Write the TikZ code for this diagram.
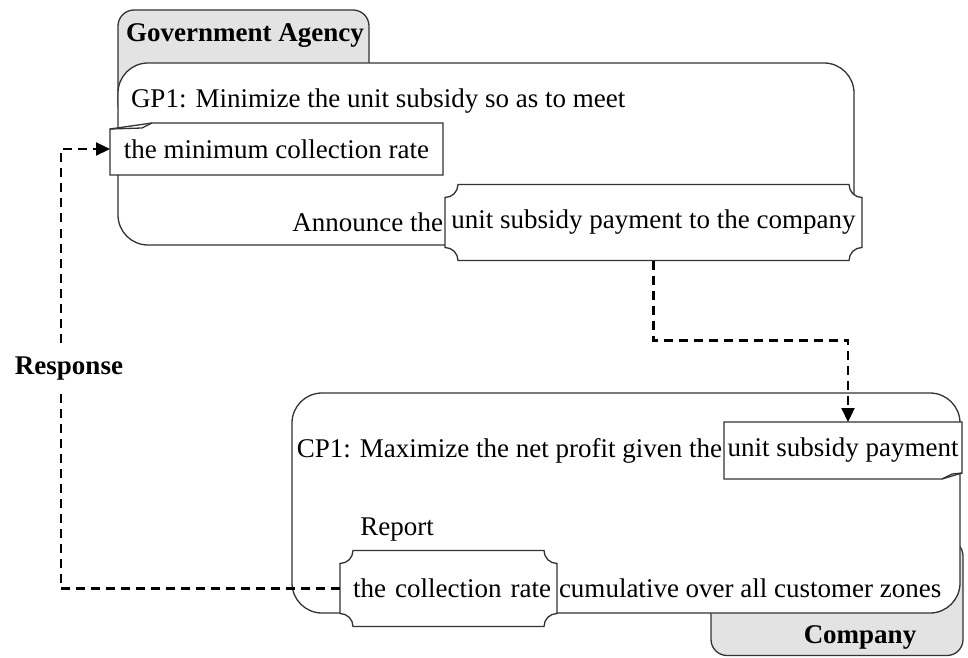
\documentclass[tikz,border=0pt]{standalone}
\usepackage{fontspec}
\setmainfont{Liberation Serif}
\usetikzlibrary{arrows.meta, positioning}

\pgfdeclarelayer{boxes}
\pgfdeclarelayer{frames}
\pgfsetlayers{boxes,frames,main}

% box with notched corners round a highlighted chunk of text
\newcommand{\chunkframe}[1]{%
  \begin{pgfonlayer}{frames}
    \draw[frame, fill=white]
      ([xshift=13pt]#1.north west) -- ([xshift=-13pt]#1.north east)
      arc[start angle=180, end angle=270, radius=13pt]
      -- ([yshift=13pt]#1.south east)
      arc[start angle=90, end angle=180, radius=13pt]
      -- ([xshift=13pt]#1.south west)
      arc[start angle=0, end angle=90, radius=13pt]
      -- ([yshift=-13pt]#1.north west)
      arc[start angle=270, end angle=360, radius=13pt] -- cycle;
  \end{pgfonlayer}}

% note with a folded corner, top left
\newcommand{\notenw}[1]{%
  \begin{pgfonlayer}{frames}
    \draw[frame, fill=white] ([yshift=-6pt]#1.north west) -- ([xshift=42pt]#1.north west)
      -- (#1.north east) -- (#1.south east) -- (#1.south west) -- cycle;
    \draw[frame] ([yshift=-6pt]#1.north west) -- ([xshift=32pt,yshift=-5pt]#1.north west)
      -- ([xshift=42pt]#1.north west);
  \end{pgfonlayer}}

% note with a folded corner, bottom right
\newcommand{\notese}[1]{%
  \begin{pgfonlayer}{frames}
    \draw[frame, fill=white] (#1.north west) -- (#1.north east) -- ([yshift=6pt]#1.south east)
      -- ([xshift=-20pt]#1.south east) -- (#1.south west) -- cycle;
    \draw[frame] ([yshift=6pt]#1.south east) -- ([xshift=-10pt,yshift=5pt]#1.south east)
      -- ([xshift=-20pt]#1.south east);
  \end{pgfonlayer}}

\begin{document}
\begin{tikzpicture}[
    x=1pt, y=1pt,
    every node/.style={inner sep=2pt, outer sep=0pt, font=\fontsize{27pt}{32pt}\selectfont},
    frame/.style={draw=black!80, line width=1.3pt},
    tab/.style={frame, fill=black!11, rounded corners=16pt},
    panel/.style={frame, fill=white, rounded corners=30pt},
    chunk/.style={minimum height=76pt},
    title/.style={font=\fontsize{27pt}{32pt}\selectfont\bfseries},
    flow/.style={-{Triangle[length=14pt, width=13pt]}, line width=2.3pt, dash pattern=on 9pt off 6pt}
  ]
  \useasboundingbox (0,0) rectangle (968,657);

  % the two parties
  \begin{pgfonlayer}{boxes}
    \draw[tab] (118,537) rectangle (369,647);
    \draw[panel] (118,412) rectangle (854,594);
    \draw[tab] (711,1.5) rectangle (963,117);
    \draw[panel] (292,44) rectangle (960,264);
  \end{pgfonlayer}

  % government agency
  \node (gaTitle) [title] at (245,621) {Government Agency};
  \node (gp1) [anchor=west] at (129,556) {GP1: Minimize the unit subsidy so as to meet};
  \node (minGA) [minimum width=333pt, minimum height=52pt] at (276.5,508) {the minimum collection rate};
  \notenw{minGA}
  \node (payGA) [chunk, minimum width=417pt] at (653.5,434.5) {unit subsidy payment to the company};
  \chunkframe{payGA}
  \node (announce) [left=0pt of payGA] {Announce the};

  % company
  \node (payC) [minimum width=238pt, minimum height=57pt] at (843,206.5) {unit subsidy payment};
  \notese{payC}
  \node (cp1) [left=0pt of payC] {CP1: Maximize the net profit given the};
  \node (rateC) [chunk, text width=205pt, inner xsep=6pt, align=right] at (448.5,68.5) {the collection rate};
  \chunkframe{rateC}
  \node (cumC) [right=0pt of rateC] {cumulative over all customer zones};
  \node (report) at (397,127) {Report};
  \node (coTitle) [title] at (860,20) {Company};

  \draw[flow] (payGA.south) -- ++(0,-80) -| ([xshift=5pt]payC.north);
  \draw[flow] (rateC.west) -- ++(-279,0) |- (minGA.west)
    node[pos=0.25, xshift=8pt, title, fill=white, inner xsep=0pt, inner ysep=10pt] {Response};
\end{tikzpicture}
\end{document}
